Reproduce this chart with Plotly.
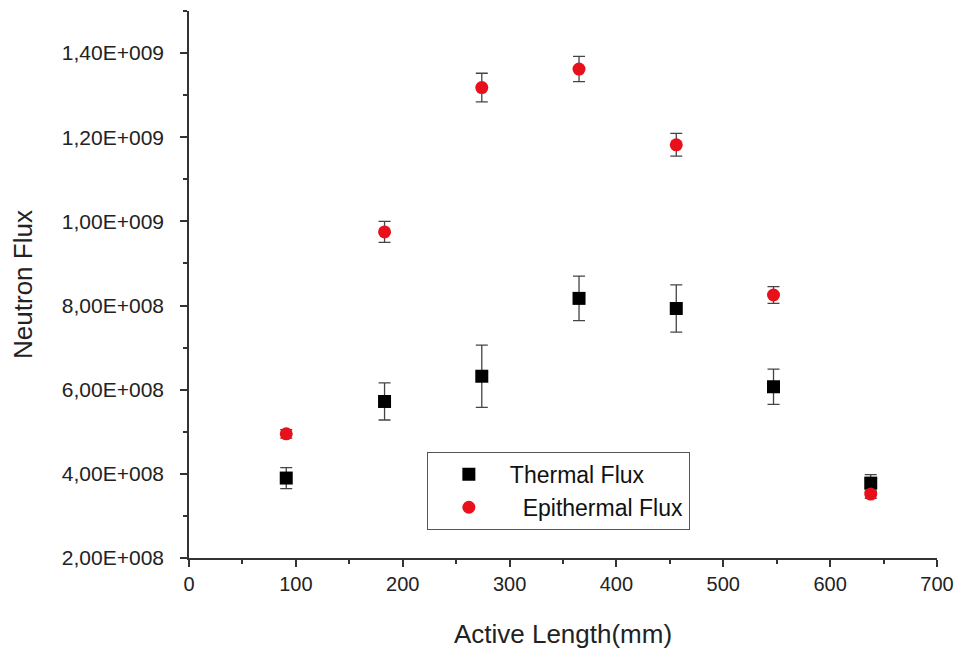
import plotly.graph_objects as go

# Data
active_length = [91, 183, 274, 365, 456, 547, 638]
thermal_flux = [3.90e8, 5.72e8, 6.32e8, 8.17e8, 7.93e8, 6.07e8, 3.78e8]
thermal_err = [0.25e8, 0.44e8, 0.74e8, 0.53e8, 0.56e8, 0.42e8, 0.20e8]
epithermal_flux = [4.95e8, 9.75e8, 13.18e8, 13.62e8, 11.82e8, 8.25e8, 3.52e8]
epithermal_err = [0.10e8, 0.25e8, 0.34e8, 0.30e8, 0.27e8, 0.20e8, 0.10e8]

y_tick_vals = [2e8, 4e8, 6e8, 8e8, 10e8, 12e8, 14e8]
y_tick_text = ["2,00E+008", "4,00E+008", "6,00E+008", "8,00E+008",
               "1,00E+009", "1,20E+009", "1,40E+009"]

FONT = "Liberation Sans, Arial, sans-serif"

fig = go.Figure()
fig.add_trace(go.Scatter(
    x=active_length, y=thermal_flux, mode="markers", name="Thermal Flux",
    marker=dict(symbol="square", size=13, color="black"),
    error_y=dict(type="data", array=thermal_err, visible=True,
                 color="#444444", thickness=1.3, width=6),
))
fig.add_trace(go.Scatter(
    x=active_length, y=epithermal_flux, mode="markers",
    name="\u00a0\u00a0Epithermal Flux",
    marker=dict(symbol="circle", size=13, color="#e8101a"),
    error_y=dict(type="data", array=epithermal_err, visible=True,
                 color="#444444", thickness=1.3, width=6),
))

fig.update_layout(
    width=958, height=655,
    margin=dict(l=189, r=21, t=11, b=97, autoexpand=False),
    plot_bgcolor="white", paper_bgcolor="white",
    font=dict(family=FONT, color="#222222", size=20),
    showlegend=True,
    legend=dict(
        x=0.318, y=0.194, xanchor="left", yanchor="top",
        bgcolor="white", bordercolor="#555555", borderwidth=1,
        font=dict(family=FONT, size=23, color="#111111"),
        itemwidth=72, tracegroupgap=0,
    ),
)
fig.update_xaxes(
    range=[0, 700], tickmode="linear", tick0=0, dtick=100,
    automargin=False,
    showline=True, linecolor="#333333", linewidth=1.5,
    ticks="outside", ticklen=7, tickwidth=1.5, tickcolor="#333333",
    minor=dict(tickmode="linear", tick0=0, dtick=50, ticks="outside",
               ticklen=4, tickwidth=1.5, tickcolor="#333333"),
    showgrid=False, zeroline=False,
    tickfont=dict(family=FONT, size=20, color="#222222"),
    title=dict(text="Active Length(mm)", standoff=31,
               font=dict(family=FONT, size=26, color="#222222")),
)
fig.update_yaxes(
    range=[2e8, 1.5e9], tickmode="array", tickvals=y_tick_vals,
    ticktext=y_tick_text, automargin=False,
    showline=True, linecolor="#333333", linewidth=1.5,
    ticks="outside", ticklen=7, tickwidth=1.5, tickcolor="#333333",
    minor=dict(tickmode="linear", tick0=2e8, dtick=1e8, ticks="outside",
               ticklen=4, tickwidth=1.5, tickcolor="#333333"),
    showgrid=False, zeroline=False,
    ticklabelstandoff=12,
    tickfont=dict(family=FONT, size=21, color="#222222"),
    title=dict(text="Neutron Flux", standoff=22,
               font=dict(family=FONT, size=26, color="#222222")),
)

# remove the page's default 8px body margin so the figure sits at (0, 0)
fig.write_html(
    "out.html",
    config={"displayModeBar": False},
    post_script="document.body.style.margin='0';document.body.style.overflow='hidden';",
)
